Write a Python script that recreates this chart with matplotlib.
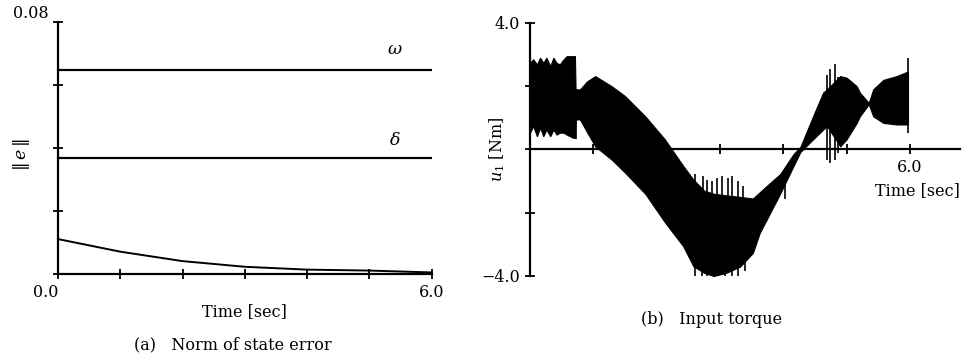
import matplotlib

matplotlib.use("Agg")
import matplotlib.pyplot as plt

plt.rcParams["font.family"] = "DejaVu Serif"
plt.rcParams["mathtext.fontset"] = "dejavuserif"

# (a) norm of state error
T_ERR = [0.0, 1.0, 2.0, 3.0, 4.0, 5.0, 6.0]
E_DECAY = [0.0111, 0.0071, 0.0041, 0.0023, 0.0014, 0.0011, 0.0005]
OMEGA_LEVEL = 0.0648
DELTA_LEVEL = 0.0368

# (b) input torque: envelope of the fast oscillation
T_U = [0.00, 0.05, 0.11, 0.16, 0.21, 0.26, 0.32, 0.37, 0.42, 0.47, 0.53, 0.58,
       0.68, 0.71, 0.72, 0.79, 0.90, 1.03, 1.29, 1.50, 1.82, 2.13, 2.42, 2.58,
       2.75, 2.90, 3.10, 3.32, 3.52, 3.63, 3.74, 3.95, 4.16, 4.27, 4.47, 4.63,
       4.69, 4.90, 5.00, 5.16, 5.21, 5.35, 5.42, 5.58, 5.79, 5.95, 5.97]
U_UPPER = [2.74, 2.85, 2.69, 2.90, 2.74, 2.90, 2.64, 2.90, 2.74, 2.69, 2.85, 2.95,
           2.95, 2.95, 1.90, 1.90, 2.15, 2.32, 2.00, 1.69, 1.05, 0.32, -0.52, -0.95,
           -1.30, -1.40, -1.45, -1.50, -1.55, -1.35, -1.15, -0.78, -0.15, 0.08, 1.05, 1.80,
           1.90, 2.32, 2.27, 2.00, 1.80, 1.47, 1.90, 2.20, 2.32, 2.45, 2.45]
U_LOWER = [0.53, 0.74, 0.42, 0.69, 0.42, 0.63, 0.42, 0.63, 0.47, 0.53, 0.53, 0.47,
           0.37, 0.37, 0.95, 0.95, 0.55, 0.10, -0.32, -0.73, -1.40, -2.30, -3.06, -3.69,
           -3.90, -4.00, -3.90, -3.70, -3.27, -2.63, -2.21, -1.40, -0.53, -0.08, 0.32, 0.63,
           0.74, 0.10, 0.32, 0.84, 1.05, 1.43, 1.05, 0.84, 0.79, 0.79, 0.79]

# isolated spikes sticking out of the band: (time, low, high)
SPIKES = [
    (0.72, 0.32, 1.90),
    (2.61, -1.6, -0.79), (2.73, -1.6, -0.84), (2.80, -1.6, -0.95), (2.87, -1.6, -1.00),
    (2.95, -1.6, -0.90), (3.03, -1.6, -0.84), (3.13, -1.6, -0.90), (3.19, -1.6, -0.84),
    (3.29, -1.6, -1.00), (3.37, -1.6, -1.16),
    (2.61, -4.10, -3.6), (2.71, -4.30, -3.8), (2.79, -4.20, -3.9), (2.90, -4.43, -3.9),
    (2.97, -4.35, -3.9), (3.08, -4.30, -3.9), (3.19, -4.20, -3.8), (3.29, -4.00, -3.6),
    (3.40, -3.85, -3.5),
    (4.03, -1.58, -0.90),
    (4.69, -0.32, 2.37), (4.74, -0.42, 2.53), (4.82, -0.32, 2.69), (4.87, -0.10, 2.30),
    (5.97, 0.53, 2.90),
]

LW = 1.6
FS = 11.5


def style_axes(ax):
    for side in ("top", "right"):
        ax.spines[side].set_visible(False)
    ax.spines["left"].set_linewidth(LW)
    ax.spines["bottom"].set_linewidth(LW)
    ax.tick_params(direction="inout", length=7, width=1.3, labelsize=FS)


fig = plt.figure(figsize=(9.71, 3.62), dpi=100)

# ---- (a)
ax1 = fig.add_axes([0.0597, 0.243, 0.385, 0.696])
ax1.plot([0, 6.0], [OMEGA_LEVEL, OMEGA_LEVEL], color="black", lw=LW)
ax1.plot([0, 6.05], [DELTA_LEVEL, DELTA_LEVEL], color="black", lw=LW)
ax1.plot(T_ERR, E_DECAY, color="black", lw=1.4)
ax1.set_xlim(0, 6.0)
ax1.set_ylim(0, 0.08)
ax1.set_xticks(range(7))
ax1.set_xticklabels(["0.0", "", "", "", "", "", "6.0"])
ax1.set_yticks([0, 0.02, 0.04, 0.06, 0.08])
ax1.set_yticklabels(["", "", "", "", "0.08"])
style_axes(ax1)
for lab in ax1.get_yticklabels():
    lab.set_verticalalignment("bottom")
ax1.get_xticklabels()[0].set_horizontalalignment("right")
ax1.text(5.4, 0.070, r"$\omega$", fontsize=FS + 1, ha="center")
ax1.text(5.4, 0.041, r"$\delta$", fontsize=FS + 1, ha="center")
ax1.set_xlabel("Time [sec]", fontsize=FS, labelpad=2)
fig.text(22 / 971, 0.572, r"$\Vert\, e \,\Vert$", fontsize=FS + 1,
         rotation=90, ha="center", va="center")
fig.text(0.24, 0.035, "(a)   Norm of state error", fontsize=FS, ha="center")

# ---- (b)
ax2 = fig.add_axes([0.5458, 0.2376, 0.4428, 0.699])
ax2.fill_between(T_U, U_LOWER, U_UPPER, color="black", lw=0.8, edgecolor="black")
for t, lo, hi in SPIKES:
    ax2.vlines(t, lo, hi, color="black", lw=1.2)
ax2.set_xlim(0, 6.79)
ax2.set_ylim(-4.0, 4.0)
ax2.spines["bottom"].set_position(("data", 0))
ax2.set_xticks(range(7))
ax2.set_xticklabels(["", "", "", "", "", "", "6.0"])
ax2.set_yticks([-4, -2, 0, 2, 4])
ax2.set_yticklabels(["\u22124.0", "", "", "", "4.0"])
style_axes(ax2)
ax2.text(6.12, -1.45, "Time [sec]", fontsize=FS, ha="center")
fig.text(497 / 971, 0.586, r"$u_1$ [Nm]", fontsize=FS, rotation=90,
         ha="center", va="center")
fig.text(0.733, 0.105, "(b)   Input torque", fontsize=FS, ha="center")

fig.savefig("out.png")
